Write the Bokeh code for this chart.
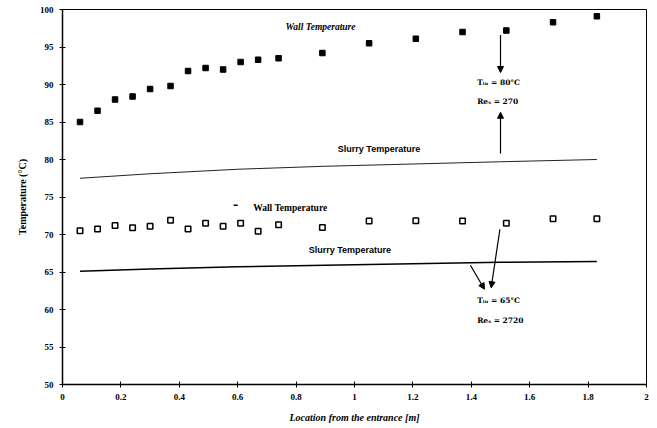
from bokeh.plotting import figure
from bokeh.models import Range1d, FixedTicker, Arrow, NormalHead
from bokeh.core.properties import value
from bokeh.embed import file_html
from bokeh.resources import INLINE

# ---- data ----
x_loc = [0.06, 0.12, 0.18, 0.24, 0.30, 0.37, 0.43, 0.49, 0.55, 0.61,
         0.67, 0.74, 0.89, 1.05, 1.21, 1.37, 1.52, 1.68, 1.83]
wall_80 = [85.0, 86.5, 88.0, 88.4, 89.4, 89.8, 91.8, 92.2, 92.0, 93.0,
           93.3, 93.5, 94.2, 95.5, 96.1, 97.0, 97.2, 98.3, 99.1]
wall_65 = [70.5, 70.75, 71.2, 70.9, 71.1, 71.9, 70.75, 71.5, 71.1, 71.5,
           70.45, 71.3, 70.95, 71.8, 71.85, 71.8, 71.5, 72.1, 72.1]
slurry_x = [0.06, 0.3, 0.6, 0.9, 1.2, 1.5, 1.83]
slurry_80 = [77.5, 78.1, 78.7, 79.1, 79.4, 79.7, 80.0]
slurry_65 = [65.1, 65.4, 65.7, 65.9, 66.1, 66.3, 66.4]

x_ticks = [0, 0.2, 0.4, 0.6, 0.8, 1.0, 1.2, 1.4, 1.6, 1.8, 2.0]
x_tick_labels = ["0", "0.2", "0.4", "0.6", "0.8", "1", "1.2", "1.4", "1.6", "1.8", "2"]
y_ticks = [50, 55, 60, 65, 70, 75, 80, 85, 90, 95, 100]

x_title = "Location from the entrance [m]"
y_title = "Temperature (°C)"

SERIF = "Liberation Serif"
SANS = "Liberation Sans"

p = figure(width=657, height=428, output_backend="svg", toolbar_location=None,
           x_range=Range1d(0, 2), y_range=Range1d(50, 100),
           min_border_left=62, min_border_right=11, min_border_top=9,
           min_border_bottom=44)
p.background_fill_color = "white"
p.border_fill_color = "white"
p.outline_line_color = "black"
p.outline_line_width = 1
p.grid.visible = False

p.xaxis.ticker = FixedTicker(ticks=x_ticks)
p.xaxis.major_label_overrides = {t: l for t, l in zip(x_ticks, x_tick_labels)}
p.yaxis.ticker = FixedTicker(ticks=y_ticks)
p.xaxis.minor_tick_line_color = None
p.yaxis.minor_tick_line_color = None
for ax in (p.xaxis, p.yaxis):
    ax.axis_line_width = 1.5
    ax.axis_line_color = "black"
    ax.major_tick_line_color = "black"
    ax.major_tick_in = 3
    ax.major_tick_out = 3
    ax.major_label_text_font = SERIF
    ax.major_label_text_font_style = "bold"
    ax.major_label_text_font_size = "9px"
    ax.major_label_text_color = "black"
    ax.major_label_standoff = 6
    ax.axis_label_text_font = SERIF
    ax.axis_label_text_font_size = "10px"
    ax.axis_label_text_color = "black"

p.xaxis.axis_label = x_title
p.xaxis.axis_label_text_font_style = "bold italic"
p.xaxis.axis_label_standoff = 9
p.yaxis.axis_label = y_title
p.yaxis.axis_label_text_font_style = "bold"
p.yaxis.axis_label_standoff = 9

# slurry lines
p.line(slurry_x, slurry_80, line_color="#222222", line_width=1)
p.line(slurry_x, slurry_65, line_color="black", line_width=1.6)

# wall temperature markers
p.scatter(x_loc, wall_80, marker="square", size=5.5, fill_color="black",
          line_color="black")
p.scatter(x_loc, wall_65, marker="square", size=5.5, fill_color="white",
          line_color="black", line_width=1.5)

# annotation texts
p.text(x=[0.764], y=[97.7], text=["Wall Temperature"], text_font=value(SERIF),
       text_font_style="bold italic", text_font_size="9.5px",
       text_baseline="middle", text_align="left", text_color="black")
p.text(x=[0.653], y=[73.55], text=["Wall Temperature"], text_font=value(SERIF),
       text_font_style="bold", text_font_size="9.5px",
       text_baseline="middle", text_align="left", text_color="black")
p.segment(x0=[0.586], y0=[73.9], x1=[0.6], y1=[73.9], line_color="black",
          line_width=1.5)
p.text(x=[0.943, 0.843], y=[81.46, 68.0],
       text=["Slurry Temperature", "Slurry Temperature"], text_font=value(SANS),
       text_font_style="bold", text_font_size="9px",
       text_baseline="middle", text_align="left", text_color="black")
p.text(x=[1.42, 1.42, 1.42, 1.42], y=[90.3, 87.7, 61.2, 58.6],
       text=["Tᵢₙ = 80°C", "Reₛ = 270", "Tᵢₙ = 65°C", "Reₛ = 2720"],
       text_font=value("DejaVu Serif"), text_font_style="bold",
       text_font_size="7.5px", text_baseline="middle", text_align="left",
       text_color="black")

# arrows
for xs, ys, xe, ye in [(1.5, 96.6, 1.5, 91.6), (1.5, 80.8, 1.5, 86.3),
                       (1.498, 70.7, 1.468, 62.9), (1.397, 65.9, 1.445, 62.7)]:
    p.add_layout(Arrow(end=NormalHead(size=6, fill_color="black",
                                      line_color="black"),
                       x_start=xs, y_start=ys, x_end=xe, y_end=ye,
                       line_color="black", line_width=1.2))

open("out.html", "w").write(file_html(p, INLINE))
